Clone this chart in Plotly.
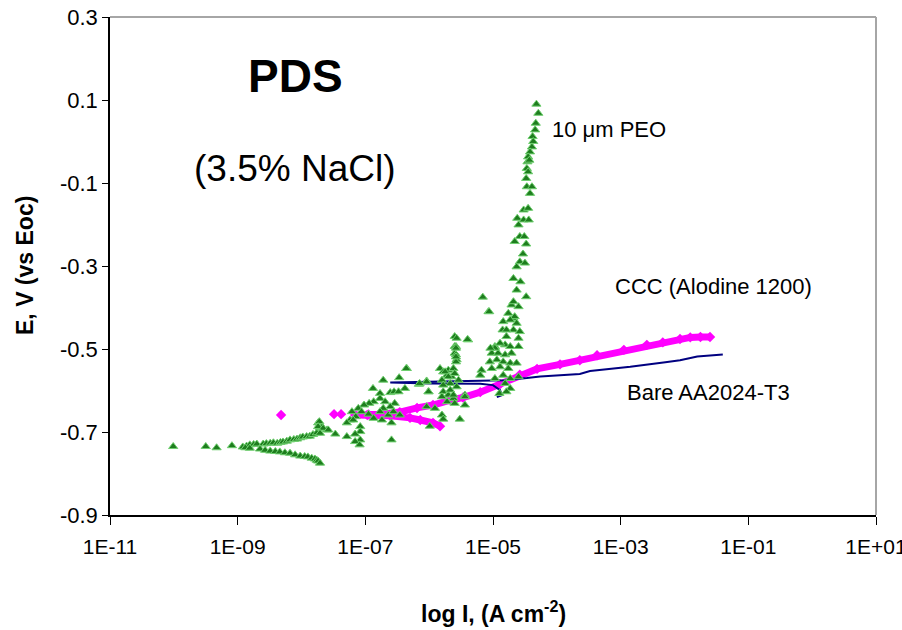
import plotly.graph_objects as go

# ---------------- data (log10 of current density, A cm^-2 ; potential V vs Eoc) -------------
# Bare AA2024-T3 (line)
bare_log_i = [-4.94, -4.86, -4.89, -5.00, -5.20, -5.52, -6.00, -6.61,
              -6.00, -5.52, -5.20, -4.97, -4.80, -4.47, -4.26, -3.64,
              -3.48, -2.85, -2.59, -2.30, -2.07, -1.80, -1.40]
bare_e = [-0.616, -0.611, -0.599, -0.587, -0.584, -0.584, -0.583, -0.581,
          -0.579, -0.578, -0.578, -0.577, -0.575, -0.570, -0.566, -0.560,
          -0.553, -0.543, -0.537, -0.532, -0.527, -0.518, -0.513]

# CCC (Alodine 1200) - isolated points, then the dense band (None = break)
ccc_log_i = [-8.32, None, -7.49, None, -7.38, None,
             -5.83, -5.94, -6.14, -6.30, -6.61, -6.97, -7.16, -6.95, -6.72,
             -6.46, -6.19, -5.94, -5.67, -5.47, -5.20, -4.89, -4.58, -4.31,
             -3.95, -3.64, -3.37, -2.95, -2.59, -2.34, -2.07, -1.91, -1.75, -1.60]
ccc_e = [-0.659, None, -0.657, None, -0.657, None,
         -0.686, -0.678, -0.671, -0.666, -0.661, -0.659, -0.659, -0.658, -0.657,
         -0.652, -0.642, -0.635, -0.623, -0.617, -0.604, -0.585, -0.562, -0.548,
         -0.537, -0.527, -0.515, -0.502, -0.490, -0.484, -0.476, -0.472, -0.471, -0.471]

# 10 um PEO (triangles)
peo_log_i = [
    -10.01, -9.50, -9.33, -9.09,
    -8.92, -8.86, -8.81, -8.75, -8.70, -8.60, -8.55, -8.49, -8.44, -8.38, -8.33, -8.29,
    -8.23, -8.18, -8.12, -8.07, -8.02, -7.98, -7.92, -7.87, -7.82, -7.76, -7.71, -7.74,
    -7.68, -7.60, -7.47,
    -8.88, -8.81, -8.65, -8.57, -8.49, -8.41, -8.34, -8.26, -8.18, -8.10, -8.02, -7.95,
    -7.90, -7.84, -7.79, -7.76, -7.74, -7.71,
    -6.35, -6.72, -6.47, -6.04, -6.16, -6.01, -6.88, -6.77, -6.61, -6.55, -6.48, -6.38,
    -6.77, -6.87, -6.94, -7.02, -6.69, -6.54, -6.61, -6.72, -6.77, -7.11, -7.21, -7.06,
    -7.15, -7.24, -7.29, -7.19, -6.95, -6.87, -6.74, -6.64, -6.56, -6.46, -6.59, -7.08,
    -7.08, -7.16, -7.29, -7.08, -7.16, -7.09, -6.59, -7.72, -7.74, -7.66, -7.58, -7.71,
    -6.04, -5.91, -5.99,
    -5.83, -5.78, -5.70, -5.62, -5.72, -5.65, -5.60, -5.80, -5.67, -5.57, -5.78, -5.70,
    -5.62, -5.72, -5.60, -5.80, -5.78, -5.52, -5.44, -5.44, -5.60, -5.60, -5.57, -5.39,
    -5.60, -5.40, -5.58, -5.58, -5.58, -5.07, -5.75, -5.70, -5.54, -5.78, -5.67, -5.80,
    -5.62, -6.04, -6.01, -5.44,
    -4.84, -4.85, -4.79, -4.81, -4.97, -4.73, -4.60, -4.60, -5.02, -4.92, -4.81, -4.71,
    -5.05, -4.94, -4.84, -4.73, -4.63, -5.02, -4.89, -4.76, -5.18, -5.20, -4.84, -4.97,
    -4.73, -4.60, -4.81, -4.73, -4.90, -4.79, -4.68, -4.76, -4.68, -4.63, -4.58, -4.71,
    -4.32, -4.29, -4.33, -4.34, -4.38, -4.37, -4.39, -4.42, -4.45, -4.46, -4.43, -4.47,
    -4.45, -4.48, -4.47, -4.39, -4.42, -4.52, -4.45, -4.62, -4.52, -4.44, -4.60, -4.58,
    -4.51, -4.66, -4.48, -4.53, -4.58, -4.50, -4.63, -4.68, -4.57, -4.63, -4.48, -4.68,
    -4.60, -4.66, -4.73, -4.79, -4.89, -4.97, -5.04, -5.16, -5.06, -5.57, -5.58, -5.58,
    -6.36, -6.15,
]
peo_e = [
    -0.735, -0.735, -0.738, -0.733,
    -0.736, -0.734, -0.731, -0.730, -0.729, -0.729, -0.728, -0.727, -0.726, -0.727, -0.725, -0.724,
    -0.722, -0.719, -0.718, -0.717, -0.714, -0.712, -0.711, -0.710, -0.706, -0.702, -0.690, -0.678,
    -0.688, -0.695, -0.705,
    -0.738, -0.739, -0.741, -0.744, -0.746, -0.747, -0.748, -0.750, -0.751, -0.755, -0.758, -0.759,
    -0.760, -0.763, -0.765, -0.768, -0.770, -0.775,
    -0.547, -0.575, -0.569, -0.577, -0.585, -0.603, -0.595, -0.607, -0.605, -0.603, -0.603, -0.595,
    -0.619, -0.627, -0.631, -0.635, -0.627, -0.631, -0.639, -0.643, -0.651, -0.643, -0.651, -0.651,
    -0.663, -0.671, -0.678, -0.671, -0.657, -0.667, -0.671, -0.659, -0.651, -0.659, -0.678, -0.687,
    -0.699, -0.705, -0.711, -0.719, -0.723, -0.731, -0.719, -0.675, -0.687, -0.691, -0.695, -0.703,
    -0.639, -0.643, -0.686,
    -0.547, -0.555, -0.551, -0.547, -0.563, -0.567, -0.559, -0.575, -0.583, -0.591, -0.603, -0.611,
    -0.619, -0.627, -0.631, -0.659, -0.669, -0.669, -0.611, -0.635, -0.494, -0.510, -0.526, -0.478,
    -0.470, -0.477, -0.494, -0.514, -0.531, -0.410, -0.555, -0.567, -0.575, -0.587, -0.599, -0.615,
    -0.611, -0.579, -0.603, -0.615,
    -0.434, -0.454, -0.470, -0.490, -0.494, -0.494, -0.474, -0.494, -0.510, -0.510, -0.514, -0.510,
    -0.531, -0.526, -0.531, -0.534, -0.534, -0.547, -0.543, -0.547, -0.551, -0.563, -0.563, -0.571,
    -0.571, -0.567, -0.583, -0.595, -0.607, -0.603, -0.454, -0.414, -0.426, -0.438, -0.458, -0.394,
    0.090, 0.068, 0.044, 0.028, 0.012, 0.000, -0.013, -0.025, -0.037, -0.049, -0.045, -0.065,
    -0.073, -0.089, -0.109, -0.109, -0.125, -0.165, -0.161, -0.185, -0.189, -0.189, -0.201, -0.229,
    -0.229, -0.241, -0.247, -0.271, -0.290, -0.293, -0.302, -0.330, -0.338, -0.358, -0.374, -0.386,
    -0.398, -0.422, -0.430, -0.454, -0.486, -0.498, -0.498, -0.375, -0.410, -0.474, -0.498, -0.519,
    -0.547, -0.583,
]

x_tick_vals = [1e-11, 1e-9, 1e-7, 1e-5, 1e-3, 1e-1, 1e1]
x_tick_text = ["1E-11", "1E-09", "1E-07", "1E-05", "1E-03", "1E-01", "1E+01"]
y_tick_vals = [-0.9, -0.7, -0.5, -0.3, -0.1, 0.1, 0.3]
y_tick_text = ["-0.9", "-0.7", "-0.5", "-0.3", "-0.1", "0.1", "0.3"]


def to_current(logs):
    return [None if v is None else 10 ** v for v in logs]


FONT = "Liberation Sans, Arial, sans-serif"

fig = go.Figure()

fig.add_trace(go.Scatter(
    x=to_current(ccc_log_i), y=ccc_e, mode="lines+markers", name="CCC (Alodine 1200)",
    line=dict(color="#ff00ff", width=7), connectgaps=False,
    marker=dict(symbol="diamond", size=8, color="#ff00ff", line=dict(width=0)),
))
fig.add_trace(go.Scatter(
    x=to_current(bare_log_i), y=bare_e, mode="lines", name="Bare AA2024-T3",
    line=dict(color="#000080", width=2),
))
fig.add_trace(go.Scatter(
    x=to_current(peo_log_i), y=peo_e, mode="markers", name="10 μm PEO",
    marker=dict(symbol="triangle-up", size=8, color="#1e7d1e",
                line=dict(color="#6fcf6f", width=1)),
))

fig.update_layout(
    width=902, height=630,
    margin=dict(l=110, r=26, t=17, b=115, autoexpand=False),
    paper_bgcolor="white", plot_bgcolor="white",
    showlegend=False,
    font=dict(family=FONT, color="black", size=21),
    xaxis=dict(
        type="log", range=[-11, 1], tickvals=x_tick_vals, ticktext=x_tick_text,
        showgrid=False, zeroline=False, showline=True, linecolor="black", linewidth=1.5,
        ticks="outside", ticklen=8, tickwidth=1, tickcolor="black", automargin=False,
        ticklabeloverflow="allow", ticklabelstandoff=4,
        tickfont=dict(family=FONT, size=21, color="black"),
    ),
    yaxis=dict(
        range=[-0.9, 0.3], tickvals=y_tick_vals, ticktext=y_tick_text,
        showgrid=False, zeroline=False, showline=True, linecolor="black", linewidth=1.5,
        ticks="outside", ticklen=6, tickwidth=1, tickcolor="black", automargin=False,
        tickfont=dict(family=FONT, size=22, color="black"),
    ),
    shapes=[
        dict(type="line", xref="paper", yref="paper", x0=0, x1=1, y0=1, y1=1,
             line=dict(color="#a6a6a6", width=2)),
        dict(type="line", xref="paper", yref="paper", x0=1, x1=1, y0=0, y1=1,
             line=dict(color="#a6a6a6", width=2)),
    ],
)

ann = [
    dict(text="<b>PDS</b>", x=0.2422, y=0.8825, xanchor="center", yanchor="middle",
         font=dict(size=46)),
    dict(text="(3.5% NaCl)", x=0.2415, y=0.6948, xanchor="center", yanchor="middle",
         font=dict(size=37)),
    dict(text="10 μm PEO", x=0.5745, y=0.7741, xanchor="left", yanchor="middle",
         font=dict(size=22)),
    dict(text="CCC (Alodine 1200)", x=0.6572, y=0.4588, xanchor="left", yanchor="middle",
         font=dict(size=22)),
    dict(text="Bare AA2024-T3", x=0.6724, y=0.2450, xanchor="left", yanchor="middle",
         font=dict(size=22)),
    dict(text="<b>E, V (vs Eoc)</b>", x=-0.111, y=0.502, xanchor="center", yanchor="middle",
         textangle=-90, font=dict(size=23)),
    dict(text="<b>log I, (A cm<sup>-2</sup>)</b>", x=0.501, y=-0.195, xanchor="center",
         yanchor="middle", font=dict(size=23)),
]
for a in ann:
    a.update(xref="paper", yref="paper", showarrow=False)
    a["font"] = dict(family=FONT, color="black", **a["font"])
fig.update_layout(annotations=ann)

fig.write_html("out.html")
